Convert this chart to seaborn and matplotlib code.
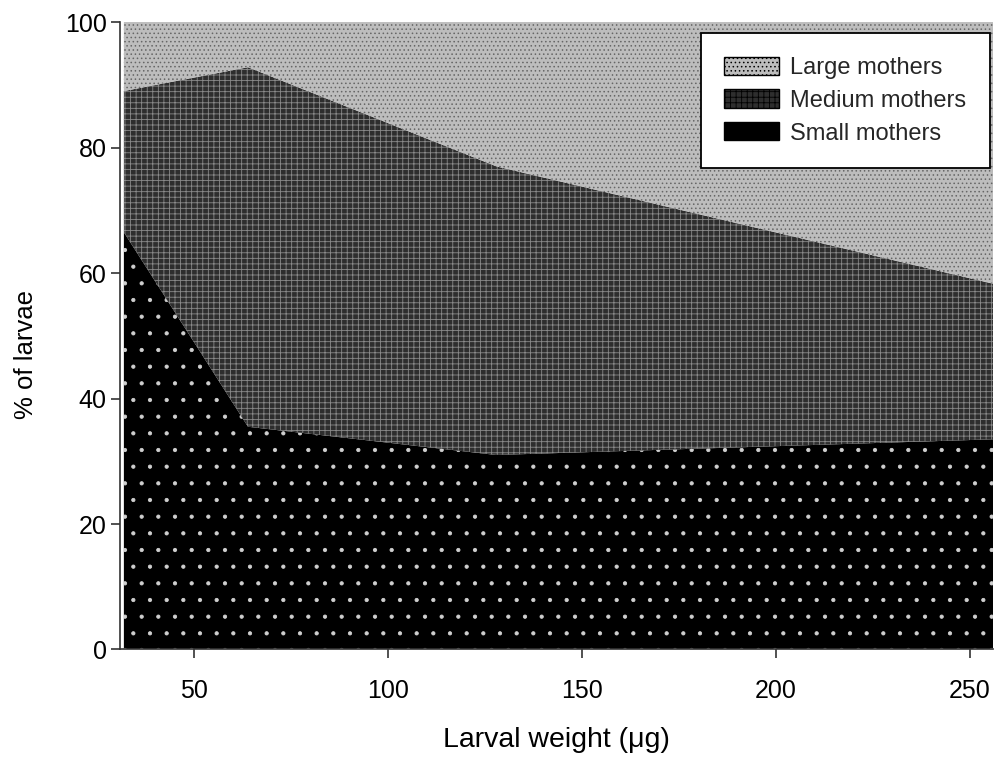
import matplotlib
matplotlib.use("Agg")
import matplotlib.pyplot as plt
import seaborn as sns
import pandas as pd

# Data
larval_weight = [32, 64, 128, 256]
small_mothers = [66.5, 35.5, 31.0, 33.5]
medium_mothers = [22.5, 57.3, 46.0, 24.8]
large_mothers = [11.0, 7.2, 23.0, 41.7]
series_names = ["Small mothers", "Medium mothers", "Large mothers"]
x_ticks = [50, 100, 150, 200, 250]
y_ticks = [0, 20, 40, 60, 80, 100]

df = pd.DataFrame({"weight": larval_weight,
                   "Small mothers": small_mothers,
                   "Medium mothers": medium_mothers,
                   "Large mothers": large_mothers})

sns.set_theme(style="ticks")
plt.rcParams["font.family"] = ["Liberation Sans", "DejaVu Sans"]
plt.rcParams["hatch.linewidth"] = 0.6

fig = plt.figure(figsize=(9.95, 7.6), dpi=100)
ax = fig.add_axes([0.1206, 0.1454, 0.8774, 0.8256])

faces = ["#000000", "#2e2e2e", "#bdbdbd"]
hatch_cols = ["#d0d0d0", "#8a8a8a", "#666666"]
hatches = [".", "+++", "...."]

polys = ax.stackplot(df["weight"], df["Small mothers"], df["Medium mothers"],
                     df["Large mothers"], labels=series_names)
for p, fc, hc, h in zip(polys, faces, hatch_cols, hatches):
    p.set_facecolor(fc)
    p.set_edgecolor(hc)
    p.set_hatch(h)
    p.set_linewidth(0)

ax.set_xlim(larval_weight[0] - 1, larval_weight[-1])
ax.set_ylim(0, 100)
ax.set_xticks(x_ticks)
ax.set_yticks(y_ticks)
ax.tick_params(axis="both", labelsize=18, length=6.5, width=1.2, color="#333333",
               labelcolor="black", direction="out")
ax.tick_params(axis="y", pad=3)
ax.tick_params(axis="x", pad=15)
for s in ["top", "right"]:
    ax.spines[s].set_visible(False)
for s in ["left", "bottom"]:
    ax.spines[s].set_linewidth(1.2)
    ax.spines[s].set_color("#333333")

ax.set_xlabel("Larval weight (μg)", fontsize=20.5, labelpad=17, color="black")
ax.set_ylabel("% of larvae", fontsize=18.5, color="black")
ax.yaxis.set_label_coords(-0.094, 0.47)

handles, labels = ax.get_legend_handles_labels()
leg = ax.legend(handles[::-1], labels[::-1], loc="upper right",
                bbox_to_anchor=(0.9966, 0.9825), fontsize=17, frameon=True,
                fancybox=False, edgecolor="black", framealpha=1,
                handlelength=2.3, handleheight=0.8, labelspacing=0.45,
                borderpad=1.0, handletextpad=0.5, borderaxespad=0)
leg.get_frame().set_linewidth(1.3)
for hnd in leg.legend_handles:
    hnd.set_linewidth(1.0)
    hnd.set_edgecolor("black")

fig.savefig("out.png", dpi=100)
